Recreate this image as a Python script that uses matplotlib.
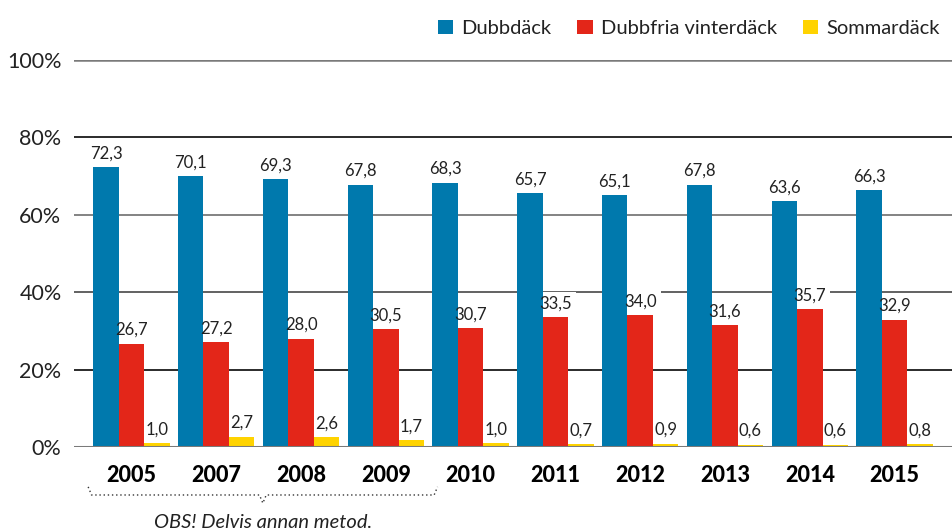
import matplotlib
matplotlib.use("Agg")
import matplotlib.pyplot as plt
import numpy as np
from matplotlib.patches import Patch

years = ["2005", "2007", "2008", "2009", "2010", "2011", "2012", "2013", "2014", "2015"]
dubbdack = [72.3, 70.1, 69.3, 67.8, 68.3, 65.7, 65.1, 67.8, 63.6, 66.3]
dubbfria = [26.7, 27.2, 28.0, 30.5, 30.7, 33.5, 34.0, 31.6, 35.7, 32.9]
sommar = [1.0, 2.7, 2.6, 1.7, 1.0, 0.7, 0.9, 0.6, 0.6, 0.8]
series_names = ["Dubbdäck", "Dubbfria vinterdäck", "Sommardäck"]
colors = ["#0079AD", "#E32619", "#FFD300"]
yticks = [0, 20, 40, 60, 80, 100]
note = "OBS! Delvis annan metod."

plt.rcParams['font.family'] = ['Lato', 'DejaVu Sans']

fig = plt.figure(figsize=(9.52, 5.30), dpi=100)
ax = fig.add_axes([74/952, 83/530, 1 - 74/952, 387/530])

x = np.arange(len(years))
w = 0.30
series = [dubbdack, dubbfria, sommar]
for i, (vals, c) in enumerate(zip(series, colors)):
    pos = x + (i - 1) * w
    ax.bar(pos, vals, width=w, color=c, zorder=3, linewidth=0)
    for px, v in zip(pos, vals):
        lab = f"{v:.1f}".replace(".", ",")
        # white background behind the label, beneath the bars
        ax.annotate(lab, (px, v), xytext=(0, 4), textcoords="offset points",
                    ha="center", va="bottom", fontsize=12, color="white",
                    zorder=2, bbox=dict(boxstyle="square,pad=0.25", fc="white", ec="none"))
        ax.annotate(lab, (px, v), xytext=(0, 4), textcoords="offset points",
                    ha="center", va="bottom", fontsize=12, color="#222222",
                    zorder=4)

# gridlines
grid_colors = {0: "#7a7a7a", 20: "#1a1a1a", 40: "#555555", 60: "#7a7a7a", 80: "#1a1a1a", 100: "#7a7a7a"}
grid_lw = {0: 2.2, 20: 1.3, 40: 1.3, 60: 1.3, 80: 1.3, 100: 1.8}
for yv in yticks:
    ax.axhline(yv, color=grid_colors[yv], lw=grid_lw[yv], zorder=1 if yv else 5)

ax.set_xlim(-0.677, 9.677)
ax.set_ylim(0, 100)
ax.set_yticks(yticks)
ax.set_yticklabels([f"{t}%" for t in yticks], fontsize=15.5, color="#222222")
ax.set_xticks(x)
ax.set_xticklabels(years, fontsize=15.5, fontweight="black", color="black")
ax.tick_params(axis="both", length=0)
ax.tick_params(axis="x", pad=13)
ax.tick_params(axis="y", pad=9)
for s in ax.spines.values():
    s.set_visible(False)

# bracket under 2005-2009
x0 = x[0] - 1.5 * w - 0.06
x1 = x[3] + 1.5 * w + 0.16
xc = (x0 + x1) / 2
trans = ax.get_xaxis_transform()
yb, ye, yn = -0.124, -0.103, -0.145
dx = 0.04
bx = [x0, x0 + dx, xc - dx, xc, xc + dx, x1 - dx, x1]
by = [ye, yb, yb, yn, yb, yb, ye]
ax.plot(bx, by, transform=trans, color="#333333", lw=1.0, ls=(0, (1, 2)),
        clip_on=False, zorder=5)
ax.text(xc, -0.194, note, transform=trans, ha="center", va="center",
        fontsize=14.5, style="italic", color="#222222")

handles = [Patch(facecolor=c, edgecolor="none") for c in colors]
fig.legend(handles, series_names, loc="upper right", bbox_to_anchor=(1.006, 0.997),
           ncol=3, frameon=False, fontsize=14.5, handlelength=0.75, handleheight=0.75,
           handletextpad=0.4, columnspacing=1.3, labelcolor="#222222")

fig.savefig("out.png", dpi=100, facecolor="white")
